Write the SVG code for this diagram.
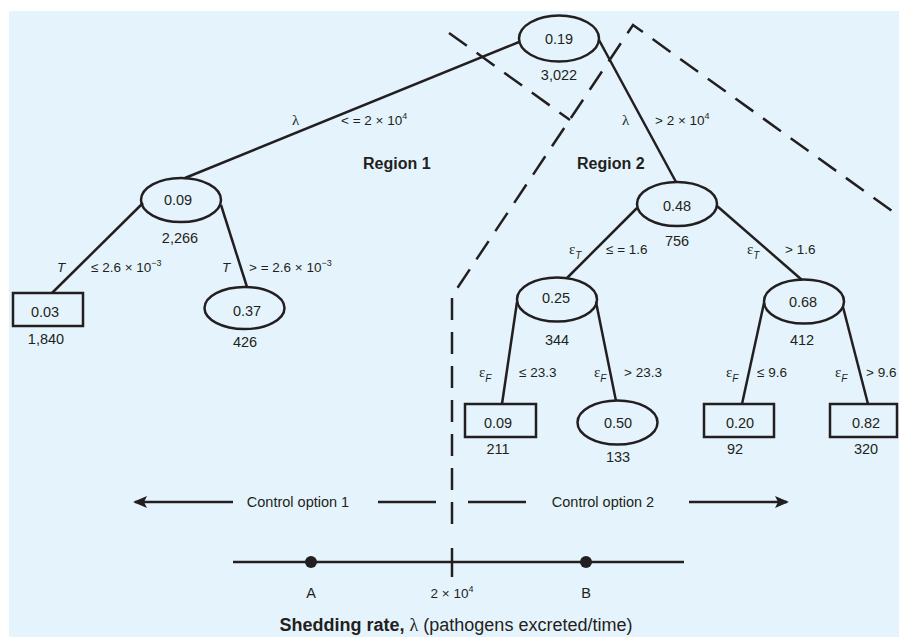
<svg xmlns="http://www.w3.org/2000/svg" width="899" height="637" viewBox="0 0 899 637">
<style>
text{font-family:"Liberation Sans",Arial,sans-serif;font-size:14.5px;fill:#231f20}
.c{text-anchor:middle}
.e{font-size:13.5px}
.b{font-weight:bold;font-size:16px}
.g{font-family:"Liberation Serif","DejaVu Serif",serif;font-size:15px}
.i{font-style:italic}
.sup{font-size:9px}
.sub{font-size:10px;font-style:italic;font-family:"Liberation Sans",sans-serif}
.cap{font-size:18px}
.cap .g{font-size:18px}
.n{fill:none;stroke:#231f20;stroke-width:2.5}
.l{fill:none;stroke:#231f20;stroke-width:2.5}
.d{fill:none;stroke:#231f20;stroke-width:2.5;stroke-dasharray:22 12}
</style>
<defs>
<marker id="ah" viewBox="0 0 14 12" refX="12" refY="6" markerWidth="14" markerHeight="12" markerUnits="userSpaceOnUse" orient="auto-start-reverse">
<path d="M0,0 L14,6 L0,12 L3,6 z" fill="#231f20"/>
</marker>
</defs>
<rect x="9" y="11" width="890" height="626" fill="#e5f4fc"/>

<g id="connectors">
<line class="l" x1="519" y1="42" x2="185" y2="178"/>
<line class="l" x1="599" y1="40" x2="676" y2="182"/>
<line class="l" x1="143" y1="203" x2="52" y2="293"/>
<line class="l" x1="221" y1="205" x2="247" y2="287"/>
<line class="l" x1="637" y1="208" x2="567" y2="278"/>
<line class="l" x1="717" y1="206" x2="802" y2="280"/>
<line class="l" x1="517" y1="302" x2="502" y2="404"/>
<line class="l" x1="596" y1="302" x2="616" y2="401"/>
<line class="l" x1="764" y1="303" x2="742" y2="404"/>
<line class="l" x1="843" y1="307" x2="868" y2="404"/>
</g>

<g id="region-boundaries">
<line class="d" x1="449" y1="33" x2="570" y2="120"/>
<polyline class="d" points="452,524 452,296 633,25 899,216"/>
<line class="l" x1="452" y1="548" x2="452" y2="577"/>
</g>

<g id="edge-labels">
<text class="g" x="292" y="125">λ</text>
<text class="e" x="341" y="125">&lt; = 2 × 10<tspan class="sup" dy="-6">4</tspan></text>
<text class="g" x="622" y="125">λ</text>
<text class="e" x="655" y="125">&gt; 2 × 10<tspan class="sup" dy="-6">4</tspan></text>
<text class="i e" x="57" y="272">T</text>
<text class="e" x="91" y="272">≤ 2.6 × 10<tspan class="sup" dy="-6">−3</tspan></text>
<text class="i e" x="222" y="272">T</text>
<text class="e" x="249" y="272">&gt; = 2.6 × 10<tspan class="sup" dy="-6">−3</tspan></text>
<text class="g" x="569" y="254">ε<tspan class="sub" dy="5">T</tspan></text>
<text class="e" x="606" y="254">≤ = 1.6</text>
<text class="g" x="747" y="254">ε<tspan class="sub" dy="5">T</tspan></text>
<text class="e" x="785" y="254">&gt; 1.6</text>
<text class="g" x="479" y="377">ε<tspan class="sub" dy="5">F</tspan></text>
<text class="e" x="519" y="377">≤  23.3</text>
<text class="g" x="594" y="377">ε<tspan class="sub" dy="5">F</tspan></text>
<text class="e" x="624" y="377">&gt; 23.3</text>
<text class="g" x="726" y="377">ε<tspan class="sub" dy="5">F</tspan></text>
<text class="e" x="757" y="377">≤  9.6</text>
<text class="g" x="835" y="377">ε<tspan class="sub" dy="5">F</tspan></text>
<text class="e" x="866" y="377">&gt; 9.6</text>
</g>

<g id="region-labels">
<text class="b" x="363" y="169">Region 1</text>
<text class="b" x="577" y="169">Region 2</text>
</g>

<g id="node-root">
<ellipse class="n" cx="559" cy="38.5" rx="40" ry="23"/>
<text class="c" x="559" y="43.5">0.19</text>
<text class="c" x="559" y="80">3,022</text>
</g>
<g id="node-L">
<ellipse class="n" cx="181" cy="200" rx="40" ry="22"/>
<text class="c" x="178" y="204.5">0.09</text>
<text class="c" x="180" y="243">2,266</text>
</g>
<g id="node-LL">
<rect class="n" x="13" y="293" width="70" height="33"/>
<text class="c" x="45" y="317">0.03</text>
<text class="c" x="46" y="344">1,840</text>
</g>
<g id="node-LR">
<ellipse class="n" cx="244.5" cy="308" rx="40" ry="21"/>
<text class="c" x="247" y="315.5">0.37</text>
<text class="c" x="245" y="347">426</text>
</g>
<g id="node-R">
<ellipse class="n" cx="677" cy="204" rx="40" ry="22"/>
<text class="c" x="677" y="210.5">0.48</text>
<text class="c" x="677" y="246">756</text>
</g>
<g id="node-RL">
<ellipse class="n" cx="557" cy="299.5" rx="40" ry="22"/>
<text class="c" x="556" y="303">0.25</text>
<text class="c" x="557" y="345">344</text>
</g>
<g id="node-RR">
<ellipse class="n" cx="804" cy="301.5" rx="40" ry="22"/>
<text class="c" x="803" y="307">0.68</text>
<text class="c" x="802" y="345">412</text>
</g>
<g id="node-RLL">
<rect class="n" x="465" y="404" width="71" height="33"/>
<text class="c" x="498" y="428">0.09</text>
<text class="c" x="498" y="454">211</text>
</g>
<g id="node-RLR">
<ellipse class="n" cx="617.5" cy="422.5" rx="40" ry="22"/>
<text class="c" x="618" y="428">0.50</text>
<text class="c" x="618" y="462">133</text>
</g>
<g id="node-RRL">
<rect class="n" x="704" y="404" width="70" height="33"/>
<text class="c" x="740" y="428">0.20</text>
<text class="c" x="735" y="454">92</text>
</g>
<g id="node-RRR">
<rect class="n" x="830" y="404" width="67" height="33"/>
<text class="c" x="866" y="428">0.82</text>
<text class="c" x="866" y="454">320</text>
</g>

<g id="control-options">
<line class="l" x1="233" y1="502" x2="135" y2="502" marker-end="url(#ah)"/>
<text class="c" x="298" y="507">Control option 1</text>
<line class="l" x1="378" y1="502" x2="436" y2="502"/>
<line class="l" x1="468" y1="502" x2="526" y2="502"/>
<text class="c" x="603" y="507">Control option 2</text>
<line class="l" x1="689" y1="502" x2="787" y2="502" marker-end="url(#ah)"/>
</g>

<g id="axis">
<line class="l" x1="233" y1="562" x2="684" y2="562"/>
<circle cx="311" cy="562" r="6" fill="#231f20"/>
<circle cx="586" cy="562" r="6" fill="#231f20"/>
<text class="c" x="311" y="598">A</text>
<text class="c e" x="452" y="598">2 × 10<tspan class="sup" dy="-6">4</tspan></text>
<text class="c" x="586" y="598">B</text>
<text class="c cap" x="456" y="631"><tspan font-weight="bold">Shedding rate,</tspan>  <tspan class="g">λ</tspan> (pathogens excreted/time)</text>
</g>
</svg>
